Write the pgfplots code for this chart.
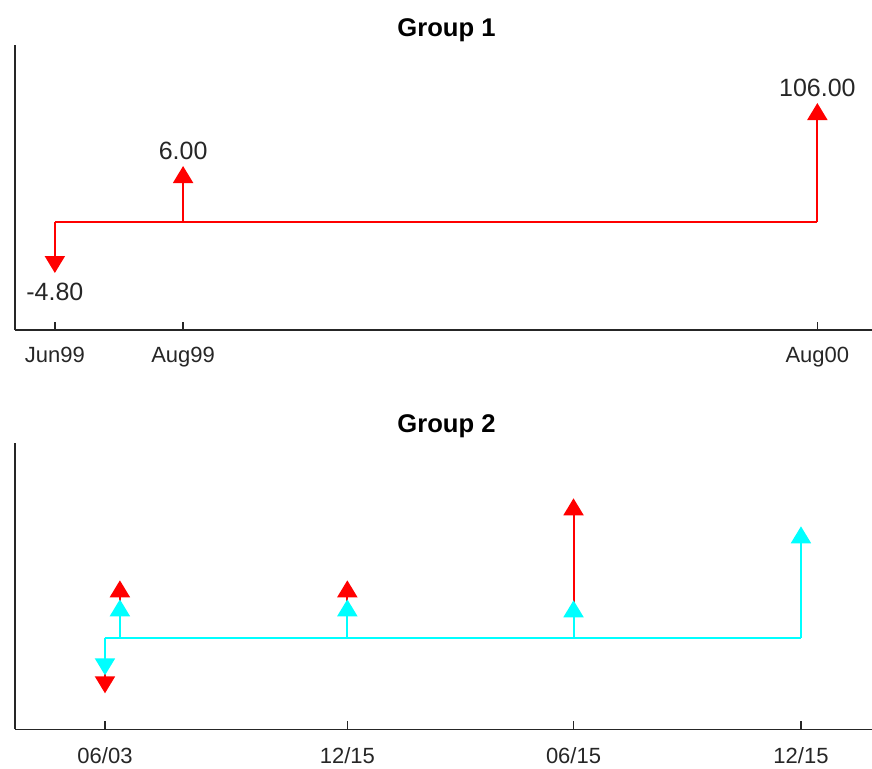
\documentclass[border=0pt]{standalone}
\usepackage{pgfplots}
\pgfplotsset{compat=1.18}
\usepackage{fontspec}
\setmainfont{Liberation Sans}
\usetikzlibrary{arrows.meta}
\definecolor{mred}{rgb}{1,0,0}
\definecolor{mcyan}{rgb}{0,1,1}
\definecolor{axgray}{gray}{0.15}
\pgfplotsset{
  cfaxis/.style={
    scale only axis,
    axis lines=left,
    axis line style={-, axgray, line width=0.8pt},
    ytick=\empty,
    xtick align=inside,
    major tick length=4pt,
    every tick/.style={axgray, line width=0.8pt},
    xticklabel style={font=\fontsize{11}{13}\selectfont, text=axgray, anchor=base},
    clip=false,
    ymin=0,
  },
  arr/.style={line width=1pt, -{Triangle[width=10pt,length=8.5pt]}},
  vlab/.style={draw=none, nodes near coords, point meta=explicit symbolic,
    every node near coord/.append style={anchor=center, font=\fontsize{12.5}{14}\selectfont, text=axgray}},
}
\begin{document}
\begin{tikzpicture}
\useasboundingbox (0,0) rectangle (436pt,-384pt);
% ---------------- Group 1 ----------------
\begin{axis}[cfaxis,
  at={(7.5pt,-165pt)}, anchor=south west,
  width=431.5pt, height=142.5pt,
  xmin=-23, xmax=475, ymax=285,
  xtick={0,74,440}, xticklabels={Jun99,Aug99,Aug00},
  xticklabel style={yshift=-16pt},
  title={Group 1},
  title style={font=\fontsize{12.8}{15}\selectfont\bfseries, text=black, anchor=base, at={(0.5,1)}, yshift=-1.5pt},
]
\addplot[mred, line width=1pt] coordinates {(0,108) (440,108)};
\addplot[mred, arr] coordinates {(0,108) (0,57)};
\addplot[mred, arr] coordinates {(74,108) (74,164)};
\addplot[mred, arr] coordinates {(440,108) (440,227)};
\addplot[vlab] table[meta=lab] {
x y lab
0 38 -4.80
74 179 6.00
440 242.5 106.00
};
\end{axis}
% ---------------- Group 2 ----------------
\begin{axis}[cfaxis,
  at={(7.5pt,-364.65pt)}, anchor=south west,
  width=431.5pt, height=143pt,
  xmin=-72.4, xmax=622, ymax=286,
  xtick={0,195,377,560}, xticklabels={06/03,12/15,06/15,12/15},
  xticklabel style={yshift=-17pt},
  title={Group 2},
  title style={font=\fontsize{12.8}{15}\selectfont\bfseries, text=black, anchor=base, at={(0.5,1)}, yshift=-0.8pt},
]
% red group (drawn first)
\addplot[mred, line width=1pt] coordinates {(0,91) (377,91)};
\addplot[mred, arr] coordinates {(0,91) (0,36)};
\addplot[mred, arr] coordinates {(12,91) (12,149)};
\addplot[mred, arr] coordinates {(195,91) (195,149)};
\addplot[mred, arr] coordinates {(377,91) (377,231)};
% cyan group (on top)
\addplot[mcyan, line width=1pt] coordinates {(0,91) (560,91)};
\addplot[mcyan, arr] coordinates {(0,91) (0,54)};
\addplot[mcyan, arr] coordinates {(12,91) (12,130)};
\addplot[mcyan, arr] coordinates {(195,91) (195,130)};
\addplot[mcyan, arr] coordinates {(377,91) (377,129)};
\addplot[mcyan, arr] coordinates {(560,91) (560,203)};
\end{axis}
\end{tikzpicture}
\end{document}
